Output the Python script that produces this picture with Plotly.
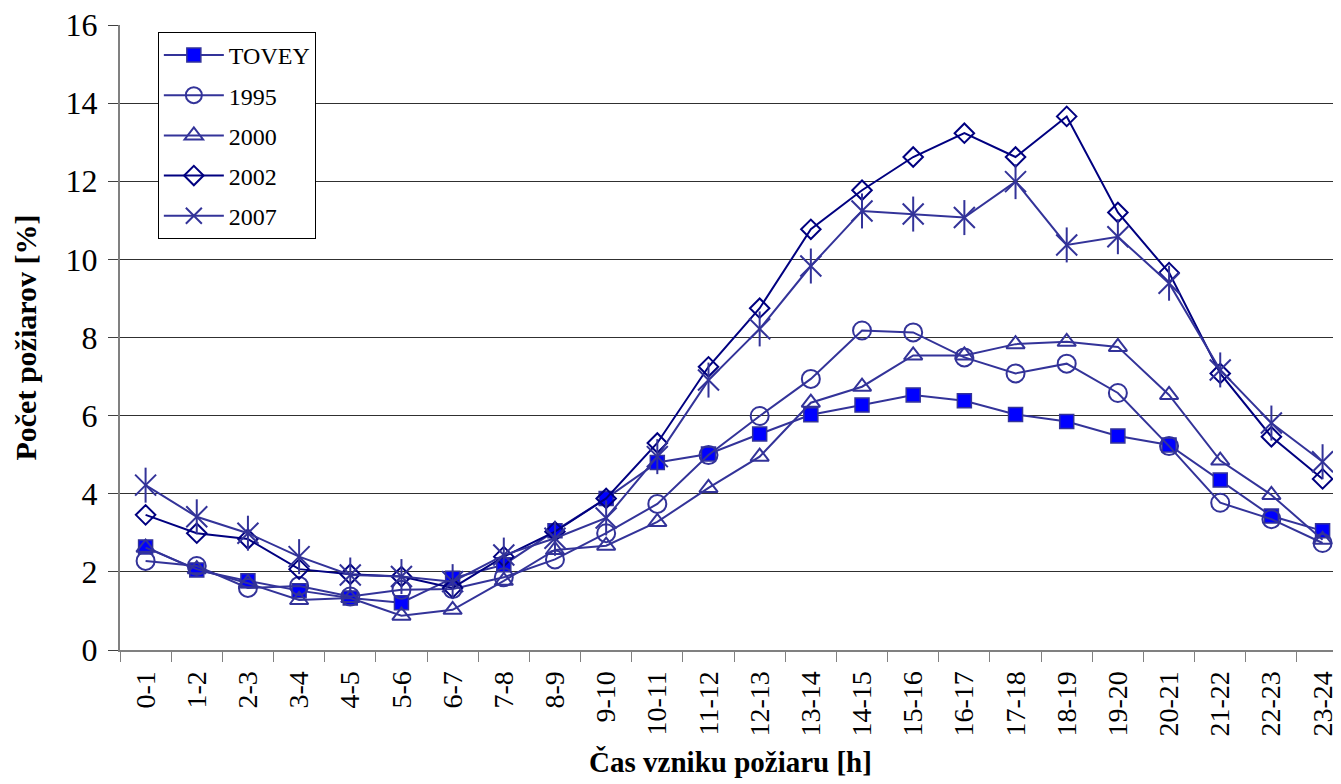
import plotly.graph_objects as go

categories = ["0-1", "1-2", "2-3", "3-4", "4-5", "5-6", "6-7", "7-8", "8-9", "9-10",
              "10-11", "11-12", "12-13", "13-14", "14-15", "15-16", "16-17", "17-18",
              "18-19", "19-20", "20-21", "21-22", "22-23", "23-24"]

tovey = [2.64, 2.05, 1.77, 1.52, 1.33, 1.21, 1.84, 2.18, 3.05, 3.88, 4.80, 5.02,
         5.53, 6.02, 6.27, 6.53, 6.38, 6.03, 5.85, 5.48, 5.25, 4.35, 3.43, 3.05]
y1995 = [2.28, 2.15, 1.59, 1.64, 1.37, 1.54, 1.56, 1.86, 2.32, 2.99, 3.74, 4.99,
         5.99, 6.94, 8.18, 8.13, 7.49, 7.08, 7.33, 6.58, 5.22, 3.77, 3.35, 2.74]
y2000 = [2.62, 2.07, 1.71, 1.28, 1.33, 0.88, 1.03, 1.77, 2.56, 2.67, 3.28, 4.15,
         4.95, 6.33, 6.74, 7.54, 7.54, 7.83, 7.89, 7.76, 6.53, 4.85, 3.97, 2.82]
y2002 = [3.46, 2.99, 2.84, 2.07, 1.94, 1.88, 1.59, 2.39, 3.03, 3.88, 5.30, 7.25,
         8.75, 10.77, 11.77, 12.62, 13.23, 12.62, 13.66, 11.20, 9.66, 7.08, 5.46, 4.38]
y2007 = [4.22, 3.41, 2.99, 2.39, 1.92, 1.88, 1.75, 2.43, 2.86, 3.38, 4.95, 6.91,
         8.22, 9.83, 11.24, 11.16, 11.07, 11.99, 10.37, 10.58, 9.39, 7.17, 5.81, 4.82]

y_ticks = [0, 2, 4, 6, 8, 10, 12, 14, 16]
grid_vals = [2, 4, 6, 8, 10, 12, 14]

C = "#333399"
NAVY = "#000080"
FONT = "Liberation Serif"

fig = go.Figure()

fig.add_trace(go.Scatter(
    x=categories, y=tovey, name="TOVEY", mode="lines+markers", legendgroup="a",
    line=dict(color=C, width=2),
    marker=dict(symbol="square", size=14, color="#0000FF", line=dict(color=C, width=1.5)),
    cliponaxis=False))
fig.add_trace(go.Scatter(
    x=categories, y=y1995, name="1995", mode="lines+markers", legendgroup="b",
    line=dict(color=C, width=2),
    marker=dict(symbol="circle-open", size=18, color=C, line=dict(width=2)),
    cliponaxis=False))
fig.add_trace(go.Scatter(
    x=categories, y=y2000, name="2000", mode="lines+markers", legendgroup="c",
    line=dict(color=C, width=2),
    marker=dict(symbol="triangle-up-open", size=16, color=C, line=dict(width=2)),
    cliponaxis=False))
fig.add_trace(go.Scatter(
    x=categories, y=y2002, name="2002", mode="lines+markers", legendgroup="d",
    line=dict(color=NAVY, width=2),
    marker=dict(symbol="diamond-open", size=15, color=NAVY, line=dict(width=2)),
    cliponaxis=False))
fig.add_trace(go.Scatter(
    x=categories, y=y2007, name="2007", mode="lines+markers", legendgroup="e",
    line=dict(color=C, width=2),
    marker=dict(symbol="x-thin-open", size=21, color=C, line=dict(width=2, color=C)),
    cliponaxis=False))
fig.add_trace(go.Scatter(
    x=categories, y=y2007, name="2007", mode="markers", legendgroup="e", showlegend=False,
    marker=dict(symbol="line-ns-open", size=25, color=C, line=dict(width=2, color=C)),
    cliponaxis=False, hoverinfo="skip"))

# the page body adds an 8px offset; figure is sized/margined to compensate
fig.update_layout(
    width=1333, height=776,
    margin=dict(l=112, r=0, t=17, b=134, autoexpand=False),
    paper_bgcolor="white", plot_bgcolor="white",
    font=dict(family=FONT, color="black"),
    showlegend=True,
    legend=dict(
        x=0.031, y=0.989, xanchor="left", yanchor="top",
        bgcolor="white", bordercolor="black", borderwidth=1,
        font=dict(family=FONT, size=24, color="black"),
        tracegroupgap=6, itemwidth=60, entrywidth=86,
    ),
    xaxis=dict(
        type="category", range=[-0.5, 23.36], automargin=False,
        tickson="boundaries", ticks="outside", ticklen=10, tickcolor="#808080",
        showline=True, linecolor="#808080", linewidth=2, showgrid=False,
        tickangle=-90, tickfont=dict(family=FONT, size=28), ticklabelstandoff=8,
        ticklabeloverflow="allow",
        title=dict(text="<b>Čas vzniku požiaru [h]</b>", font=dict(family=FONT, size=29), standoff=16),
    ),
    yaxis=dict(
        range=[0, 16], tickvals=y_ticks, ticks="outside", ticklen=10, tickcolor="#404040",
        showline=True, linecolor="#808080", linewidth=2, showgrid=False, zeroline=False,
        automargin=False, ticklabelstandoff=4, ticklabeloverflow="allow",
        tickfont=dict(family=FONT, size=32),
        title=dict(text="<b>Počet požiarov [%]</b>", font=dict(family=FONT, size=30), standoff=20),
    ),
    yaxis2=dict(
        overlaying="y", range=[0, 16], tickvals=grid_vals, showticklabels=False,
        showgrid=True, gridcolor="#303030", gridwidth=1, zeroline=False, ticks="",
        automargin=False,
    ),
)

# invisible trace to anchor yaxis2 grid
fig.add_trace(go.Scatter(x=[categories[0]], y=[0], yaxis="y2", mode="markers",
                         marker=dict(opacity=0), showlegend=False, hoverinfo="skip"))

fig.write_html("out.html")
